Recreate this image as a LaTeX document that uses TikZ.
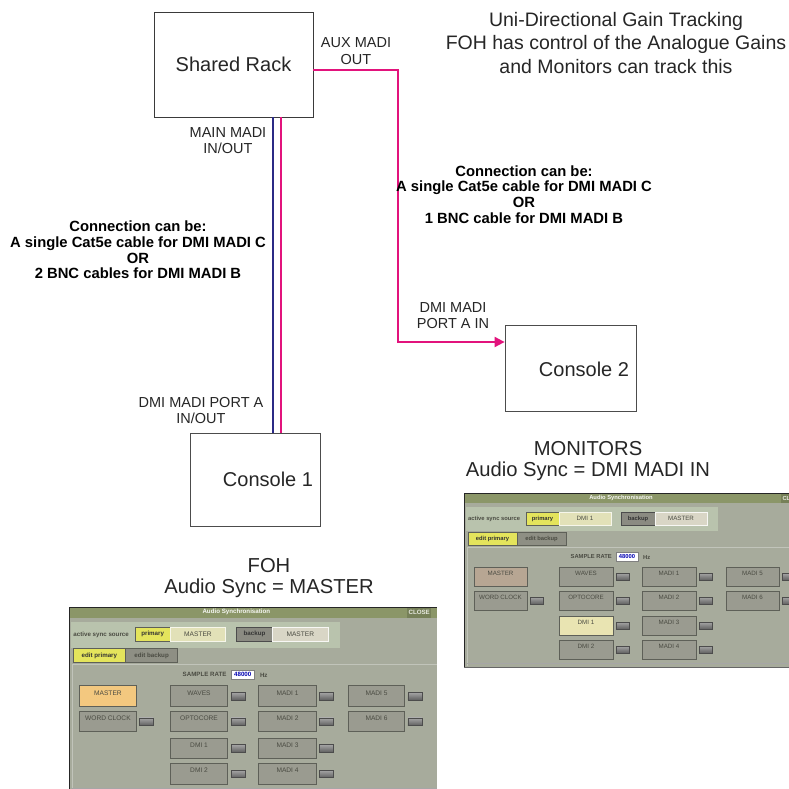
\documentclass[tikz,border=0pt]{standalone}
\usepackage{fontspec}
\setmainfont{Liberation Sans}
\usetikzlibrary{arrows.meta}
\definecolor{pinkc}{HTML}{E2137C}
\definecolor{bluec}{HTML}{2B2A86}
\definecolor{boxc}{HTML}{3A3A3A}
\definecolor{ptitle}{HTML}{8B9668}
\definecolor{pbg}{HTML}{A7AB9C}
\definecolor{prow}{HTML}{B9C3AD}
\definecolor{pbtn}{HTML}{9A9B90}
\definecolor{pbtnb}{HTML}{5E6058}
\definecolor{pyel}{HTML}{E4E45C}
\definecolor{pfield}{HTML}{E2E1B8}
\definecolor{pfield2}{HTML}{D9D6C6}
\definecolor{porange}{HTML}{F3C87F}
\definecolor{pbrown}{HTML}{B7A693}
\definecolor{pdmi}{HTML}{E9E4B2}
\definecolor{ptext}{HTML}{4A4B42}
\tikzset{
  x=1pt, y=-1pt,
  box/.style={draw=boxc, line width=0.9pt, fill=white},
  big/.style={font=\fontsize{20}{22}\selectfont, text=black!85, align=center, inner sep=0},
  lbl/.style={font=\fontsize{14.5}{16.5}\selectfont, align=center, text=black!85, inner sep=0},
  note/.style={font=\bfseries\fontsize{14.8}{15.7}\selectfont, align=center, inner sep=0},
  caption/.style={font=\fontsize{20.2}{20.5}\selectfont, align=center, text=black!85, inner sep=0},
  pinkline/.style={draw=pinkc, line width=1.8pt},
  blueline/.style={draw=bluec, line width=1.4pt},
  psmall/.style={font=\bfseries\fontsize{5.8}{6}\selectfont, text=ptext, inner sep=0},
  pbtntext/.style={font=\fontsize{6.2}{6.5}\selectfont, text=ptext, inner sep=0},
  ptitlefont/.style={font=\bfseries\fontsize{5.8}{6}\selectfont, text=white!92!ptitle, inner sep=0},
}
\newcommand\pbutton[5]{%
  \draw[pbtnb, line width=0.8pt, fill=#4] (#1,#2) rectangle (#3,#2+19);
  \node[pbtntext] at ({(#1+#3)/2},#2+6.5) {#5};}
\newcommand\pind[2]{%
  \draw[black!70, line width=0.4pt, top color=black!35, bottom color=black!62] (#1,#2+6) rectangle (#1+13,#2+13);}
\newcommand\syncpanel[5]{%
\begin{scope}[shift={(#1)}, scale=#2, transform shape]
  \fill[pbg] (0,0) rectangle (345,174);
  \fill[ptitle] (0,0) rectangle (345,10);
  \fill[ptitle!85!black] (317,1) rectangle (340,10);
  \draw[black!85, line width=1pt] (0,174) -- (0,0) -- (345,0);
  \draw[black!60, line width=0.8pt] (0,174) -- (345,174);
  \node[ptitlefont] at (157,5) {Audio Synchronisation};
  \node[psmall, text=white!80!ptitle] at (328.5,5.5) {CLOSE};
  \fill[prow] (2,14) rectangle (254,38);
  \node[psmall, anchor=west] at (4,26) {active sync source};
  \draw[pbtnb, line width=0.7pt, fill=pyel] (62,19) rectangle (95,32);
  \node[psmall, text=black!80] at (78.5,25.5) {primary};
  \draw[white!70!pfield, line width=0.5pt, fill=pfield] (95,19) rectangle (147,32);
  \node[pbtntext] at (121,25.5) {#3};
  \draw[black!70, line width=0.7pt, fill=pbtn!90!black] (157,19) rectangle (191,32);
  \node[psmall, text=black!80] at (174,25.5) {backup};
  \draw[white!80!pfield2, line width=0.5pt, fill=pfield2] (191,19) rectangle (243,32);
  \node[pbtntext] at (217,25.5) {MASTER};
  \draw[pbtnb, line width=0.5pt, fill=pyel] (4,39) rectangle (53,52);
  \node[psmall, text=black!80] at (28.5,45.5) {edit primary};
  \draw[pbtnb, line width=0.5pt, fill=pbtn!92!black] (53,39) rectangle (102,52);
  \node[psmall] at (77.5,45.5) {edit backup};
  \draw[white!30!pbg, line width=0.6pt] (3,173) -- (3,54) -- (345,54);
  \draw[black!35, line width=0.6pt] (3,170) -- (345,170);
  \node[psmall, anchor=east] at (148,63.5) {SAMPLE RATE};
  \draw[black!50, line width=0.4pt, fill=white] (152,59) rectangle (174,68);
  \node[psmall, text=blue!70!black] at (163,63.5) {48000};
  \node[psmall, anchor=west] at (179,64) {Hz};
  \pbutton{10}{74}{63}{#4}{MASTER}
  \pbutton{10}{98}{63}{pbtn}{WORD CLOCK}\pind{66}{98}
  \pbutton{95}{74}{149}{pbtn}{WAVES}\pind{152}{74}
  \pbutton{95}{98}{149}{pbtn}{OPTOCORE}\pind{152}{98}
  \pbutton{95}{123}{149}{#5}{DMI 1}\pind{152}{123}
  \pbutton{95}{147}{149}{pbtn}{DMI 2}\pind{152}{147}
  \pbutton{178}{74}{232}{pbtn}{MADI 1}\pind{235}{74}
  \pbutton{178}{98}{232}{pbtn}{MADI 2}\pind{235}{98}
  \pbutton{178}{123}{232}{pbtn}{MADI 3}\pind{235}{123}
  \pbutton{178}{147}{232}{pbtn}{MADI 4}\pind{235}{147}
  \pbutton{262}{74}{315}{pbtn}{MADI 5}\pind{318}{74}
  \pbutton{262}{98}{315}{pbtn}{MADI 6}\pind{318}{98}
\end{scope}}
\begin{document}
\begin{tikzpicture}
\useasboundingbox (0,0) rectangle (789,789);
\clip (0,0) rectangle (789,789);
\fill[white] (0,0) rectangle (789,789);

% boxes
\node[box, minimum width=159pt, minimum height=105pt, big] (rack) at (233.5,64.5) {Shared Rack};
\node[box, draw=black!70, line width=0.8pt, minimum width=131pt, minimum height=86pt] (con2) at (570.5,368) {};
\node[big] (con2t) at (584,369) {Console 2};
\node[box, draw=black!70, line width=0.8pt, minimum width=130pt, minimum height=93pt] (con1) at (255.5,480) {};
\node[big] (con1t) at (268,479) {Console 1};

% main MADI cables
\draw[blueline] ([xshift=39.5pt]rack.south) -- ([xshift=39.5pt]rack.south |- con1.north);
\draw[pinkline] ([xshift=47.5pt]rack.south) -- ([xshift=47.5pt]rack.south |- con1.north);

% aux MADI cable
\coordinate (auxc) at (398,70);
\draw[pinkline, -{Triangle[length=10pt, width=10pt]}] ([yshift=-5.5pt]rack.east) -- (auxc) |- ([yshift=26pt]con2.west);

% labels
\node[lbl] (auxl) at (356,51) {AUX MADI\\OUT};
\node[lbl] (mainl) at (228,140.5) {MAIN MADI\\IN/OUT};
\node[lbl] (portal) at (201,410.5) {DMI MADI PORT A\\IN/OUT};
\node[lbl] (portin) at (453,315.5) {DMI MADI\\PORT A IN};
\node[note] (noteL) at (138,250) {Connection can be:\\A single Cat5e cable for DMI MADI C\\OR\\2 BNC cables for DMI MADI B};
\node[note] (noteR) at (524,194.5) {Connection can be:\\A single Cat5e cable for DMI MADI C\\OR\\1 BNC cable for DMI MADI B};
\node[font=\fontsize{19.5}{23.5}\selectfont, align=center, text=black!85, inner sep=0] (title) at (616,43) {Uni-Directional Gain Tracking\\FOH has control of the Analogue Gains\\and Monitors can track this};
\node[caption] (monl) at (588,461) {MONITORS\\Audio Sync = DMI MADI IN};
\node[caption, font=\fontsize{20.2}{21}\selectfont] (fohl) at (269,578) {FOH\\Audio Sync = MASTER};

% screenshots
\syncpanel{464,493}{1}{DMI 1}{pbrown}{pdmi}
\syncpanel{69,607}{1.066}{MASTER}{porange}{pbtn}
\end{tikzpicture}
\end{document}
